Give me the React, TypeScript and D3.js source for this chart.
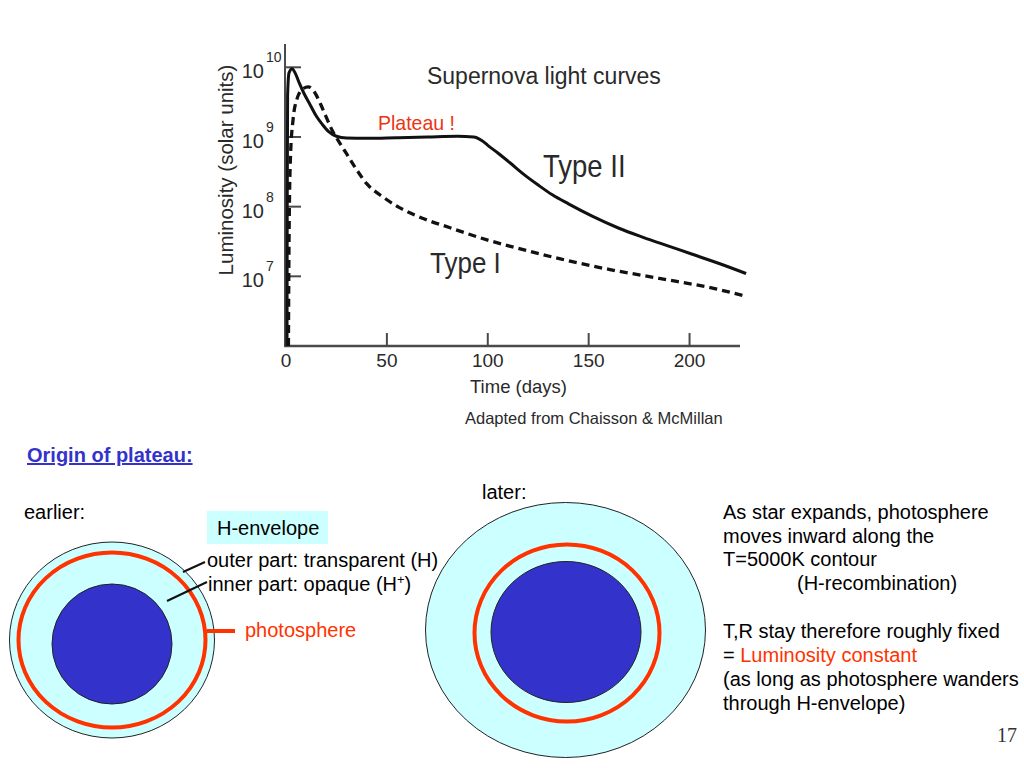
// App.tsx – supernova light curves slide
import React from "react";
import * as d3 from "d3";

// Light curve readings: days after explosion, log10 luminosity (solar units)
const typeIIDays = [0.5, 0.6, 0.8, 1.5, 3, 4.5, 6.5, 9, 12, 15, 18, 21, 25, 30, 40, 55, 70, 85, 93, 97, 100, 105, 111, 118, 125, 132, 140, 152, 165, 177, 190, 201, 215, 228];
const typeIILogL = [6.0, 8.0, 9.6, 9.92, 9.98, 9.92, 9.78, 9.62, 9.46, 9.3, 9.18, 9.08, 9.01, 8.985, 8.98, 8.99, 9.0, 9.01, 9.0, 8.95, 8.88, 8.77, 8.63, 8.46, 8.31, 8.17, 8.04, 7.86, 7.69, 7.56, 7.43, 7.32, 7.18, 7.04];

const typeIDays = [1.2, 1.5, 2.2, 3.5, 5.5, 8, 11, 14, 17, 20, 23, 26.5, 30, 35, 40, 48, 56, 68, 81, 100, 118, 136, 160, 185, 213, 227];
const typeILogL = [6.0, 7.5, 8.7, 9.25, 9.55, 9.68, 9.72, 9.65, 9.48, 9.28, 9.09, 8.92, 8.76, 8.53, 8.33, 8.14, 7.99, 7.83, 7.7, 7.52, 7.38, 7.25, 7.1, 6.97, 6.82, 6.72];

const xTicks = [0, 50, 100, 150, 200];
const yTickExponents = [10, 9, 8, 7];

const explanationLines = [
  "As star expands, photosphere",
  "moves inward along the",
  "T=5000K contour",
];

const font = "Liberation Sans, Arial, Helvetica, sans-serif";
const ink = "#2a2a2a";
const cyan = "#ccffff";
const blue = "#3333cc";
const red = "#ff3300";

// the scanned plot lettering is a little taller than Arial
const Tall: React.FC<{ x: number; y: number; size: number; sy?: number; fill?: string; children: React.ReactNode }> = ({
  x,
  y,
  size,
  sy = 1.1,
  fill,
  children,
}) => (
  <text transform={`translate(${x},${y}) scale(1,${sy})`} fontSize={size} fill={fill}>
    {children}
  </text>
);

const App: React.FC = () => {
  const x = d3.scaleLinear().domain([0, 225]).range([286, 740]);
  const y = d3.scaleLog().domain([1e6, Math.pow(10, 10.32)]).range([346, 45]);

  const line = d3
    .line<[number, number]>()
    .x((d) => x(d[0]))
    .y((d) => y(Math.pow(10, d[1])))
    .curve(d3.curveMonotoneX);

  const typeII = typeIIDays.map((t, i) => [t, typeIILogL[i]] as [number, number]);
  const typeI = typeIDays.map((t, i) => [t, typeILogL[i]] as [number, number]);

  return (
    <svg
      width={1024}
      height={768}
      style={{ position: "absolute", left: 0, top: 0, background: "#fff" }}
      fontFamily={font}
    >
      {/* ---- light curve plot ---- */}
      <g fill={ink}>
        <Tall x={427} y={84} size={23} sy={1.08}>
          Supernova light curves
        </Tall>
        <Tall x={543} y={177} size={27.5} sy={1.15}>
          Type II
        </Tall>
        <Tall x={430} y={273} size={26} sy={1.1}>
          Type I
        </Tall>
        <Tall x={378} y={130} size={19.5} sy={1.06} fill="#ee3311">
          Plateau !
        </Tall>
        <text x={470} y={393} fontSize={18.5}>
          Time (days)
        </text>
        <text x={465} y={424} fontSize={16.5}>
          Adapted from Chaisson &amp; McMillan
        </text>
        <text
          transform="translate(233,170) rotate(-90)"
          textAnchor="middle"
          fontSize={20.5}
        >
          Luminosity (solar units)
        </text>
      </g>

      {/* axes */}
      <g stroke="#4a4a4a" strokeWidth={2}>
        <line x1={285} x2={285} y1={44} y2={347} />
        <line x1={284} x2={x(225)} y1={346} y2={346} strokeWidth={2.5} />
        {yTickExponents.map((e) => (
          <line key={e} x1={285} x2={301} y1={y(Math.pow(10, e))} y2={y(Math.pow(10, e))} />
        ))}
        {xTicks.slice(1).map((t) => (
          <line key={t} x1={x(t)} x2={x(t)} y1={346} y2={333} />
        ))}
      </g>
      <g fill={ink}>
        {yTickExponents.map((e) => (
          <g key={e}>
            <text x={264} y={y(Math.pow(10, e)) + 11} fontSize={20} textAnchor="end">
              10
            </text>
            <text x={266} y={y(Math.pow(10, e)) - 5} fontSize={14}>
              {e}
            </text>
          </g>
        ))}
        {xTicks.map((t) => (
          <text key={t} x={x(t)} y={367} fontSize={19} textAnchor="middle">
            {t}
          </text>
        ))}
      </g>

      <path d={line(typeI) ?? ""} fill="none" stroke="#111" strokeWidth={3.3} strokeDasharray="8 5" />
      <path d={line(typeII) ?? ""} fill="none" stroke="#111" strokeWidth={3} />

      {/* ---- origin of plateau ---- */}
      <text x={27} y={462} fontSize={20} fontWeight="bold" fill={blue} textDecoration="underline">
        Origin of plateau:
      </text>
      <text x={24} y={519} fontSize={20}>
        earlier:
      </text>

      {/* earlier star */}
      <ellipse cx={112} cy={640} rx={102.5} ry={98} fill={cyan} stroke="#222" strokeWidth={1} />
      <ellipse cx={112} cy={640} rx={93.5} ry={87.5} fill="none" stroke={red} strokeWidth={4} />
      <ellipse cx={112} cy={644} rx={60} ry={60} fill={blue} stroke="#222" strokeWidth={1} />

      <rect x={207} y={511} width={121} height={33} fill={cyan} />
      <text x={217} y={535} fontSize={20}>
        H-envelope
      </text>
      <line x1={183} y1={572} x2={205} y2={562} stroke="#111" strokeWidth={2} />
      <line x1={167} y1={601} x2={207} y2={582} stroke="#111" strokeWidth={2} />
      <text x={207} y={567} fontSize={20}>
        outer part: transparent (H)
      </text>
      <text x={208} y={591} fontSize={20}>
        inner part: opaque (H
        <tspan fontSize={13} dy={-7}>
          +
        </tspan>
        <tspan dy={7}>)</tspan>
      </text>
      <line x1={207} y1={631} x2={235} y2={631} stroke={red} strokeWidth={4} />
      <text x={245} y={637} fontSize={20} fill={red}>
        photosphere
      </text>

      {/* later star */}
      <text x={482} y={499} fontSize={20}>
        later:
      </text>
      <ellipse cx={565.5} cy={630} rx={140} ry={127.5} fill={cyan} stroke="#222" strokeWidth={1} />
      <ellipse cx={567} cy={633} rx={92.5} ry={88.5} fill="none" stroke={red} strokeWidth={4} />
      <ellipse cx={566} cy={632} rx={75} ry={70.5} fill={blue} stroke="#222" strokeWidth={1} />

      <g fontSize={20}>
        {explanationLines.map((l, i) => (
          <text key={l} x={723} y={519 + i * 23.7}>
            {l}
          </text>
        ))}
        <text x={797} y={590}>
          (H-recombination)
        </text>
        <text x={723} y={638}>
          T,R stay therefore roughly fixed
        </text>
        <text x={723} y={662}>
          ={" "}
          <tspan fill={red}>Luminosity constant</tspan>
        </text>
        <text x={723} y={686}>
          (as long as photosphere wanders
        </text>
        <text x={723} y={710}>
          through H-envelope)
        </text>
      </g>

      <text x={997} y={742} fontSize={20} fontFamily="Liberation Serif, Times New Roman, serif" fill="#333">
        17
      </text>
    </svg>
  );
};

export default App;
